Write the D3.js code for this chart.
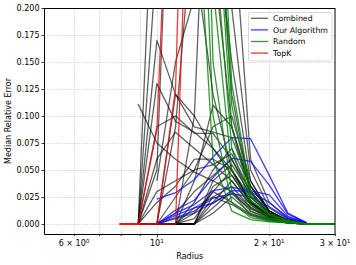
<!DOCTYPE html>
<html>
<head>
<meta charset="utf-8">
<script src="https://cdn.jsdelivr.net/npm/d3@7/dist/d3.min.js"></script>
<style>
  html, body { margin: 0; padding: 0; background: #fff; }
  svg { display: block; font-family: "DejaVu Sans", sans-serif; }
</style>
</head>
<body>
<svg id="chart" width="356" height="265"></svg>
<script>
// ---------------- data ----------------
const radii = [7.94, 8.91, 10, 11.22, 12.6, 14.14, 15.87, 17.82, 20, 22.45, 25.2, 28.28, 31.75];

const yTicks = [0, 0.025, 0.05, 0.075, 0.1, 0.125, 0.15, 0.175, 0.2];
const yTickLabels = ["0.000", "0.025", "0.050", "0.075", "0.100", "0.125", "0.150", "0.175", "0.200"];
const xMajorTicks = [10];
const xMinorTicks = [6, 7, 8, 9, 20, 30];
const xTickLabels = [
  { v: 6, base: "6 \u00d7 10", exp: "0" },
  { v: 10, base: "10", exp: "1" },
  { v: 20, base: "2 \u00d7 10", exp: "1" },
  { v: 30, base: "3 \u00d7 10", exp: "1" }
];

const legendLabels = ["Combined", "Our Algorithm", "Random", "TopK"];

// Combined (gray)
const combinedSeries = [
  [null, 0, 0.40, 0.70, 0.60, 0.35, 0.12, 0.03, 0.010, 0.003, 0],
  [null, 0, 0.05, 0.50, 0.80, 0.50, 0.20, 0.05, 0.015, 0.004, 0],
  [null, null, 0, 0.09, 0.30, 0.25, 0.09, 0.03, 0.010, 0.003, 0],
  [null, null, 0, 0, 0.10, 0.50, 0.30, 0.06, 0.020, 0.005, 0],
  [null, null, 0.04, 0.15, 0.21, 0.30, 0.15, 0.04, 0.012, 0.003, 0],
  [null, 0, 0.25, 0.35, 0.25, 0.12, 0.05, 0.02, 0.008, 0.002, 0],
  [null, 0.111, 0.075, 0.060, 0.048, 0.040, 0.030, 0.016, 0.006, 0.002, 0],
  [null, 0, 0.17, 0.12, 0.09, 0.085, 0.08, 0.035, 0.012, 0.003, 0],
  [null, 0, 0.13, 0.095, 0.085, 0.07, 0.05, 0.02, 0.008, 0.002, 0],
  [null, 0, 0.09, 0.10, 0.084, 0.084, 0.06, 0.025, 0.010, 0.003, 0],
  [null, null, 0, 0.12, 0.10, 0.07, 0.045, 0.02, 0.007, 0.002, 0],
  [null, 0, 0.06, 0.085, 0.07, 0.055, 0.04, 0.018, 0.006, 0.002, 0],
  [null, 0, 0, 0, 0.02, 0.05, 0.07, 0.035, 0.012, 0.003, 0],
  [null, 0, 0, 0.01, 0.03, 0.045, 0.06, 0.03, 0.010, 0.003, 0],
  [null, 0, 0, 0, 0, 0.04, 0.055, 0.028, 0.010, 0.002, 0],
  [null, 0, 0, 0, 0.01, 0.03, 0.05, 0.025, 0.009, 0.002, 0],
  [null, 0, 0, 0, 0, 0.035, 0.045, 0.02, 0.008, 0.002, 0],
  [null, 0, 0, 0, 0, 0.02, 0.04, 0.018, 0.007, 0.002, 0],
  [null, 0, 0, 0, 0.015, 0.025, 0.035, 0.015, 0.006, 0.002, 0],
  [null, 0, 0, 0, 0, 0.015, 0.03, 0.012, 0.005, 0.001, 0],
  [null, 0, 0, 0.005, 0.01, 0.02, 0.028, 0.014, 0.006, 0.001, 0],
  [null, 0, 0, 0, 0, 0.01, 0.025, 0.01, 0.004, 0.001, 0],
  [null, 0, 0, 0, 0.005, 0.03, 0.02, 0.009, 0.004, 0.001, 0],
  [null, 0, 0, 0, 0, 0.025, 0.018, 0.008, 0.003, 0.001, 0],
  [null, 0, 0.03, 0.04, 0.05, 0.055, 0.065, 0.03, 0.010, 0.003, 0],
  [null, 0, 0.02, 0.035, 0.06, 0.06, 0.05, 0.022, 0.008, 0.002, 0],
  [null, 0, 0, 0.025, 0.05, 0.09, 0.10, 0.04, 0.012, 0.003, 0],
  [null, 0, 0, 0, 0.04, 0.11, 0.09, 0.035, 0.012, 0.003, 0]
];

// Our Algorithm (blue)
const ourAlgorithmSeries = [
  [null, null, 0.023, 0.029, 0.041, 0.062, 0.080, 0.079, 0.045, 0.010, 0.001],
  [null, null, 0, 0.013, 0.022, 0.043, 0.061, 0.058, 0.036, 0.009, 0.001],
  [null, null, 0, 0.010, 0.018, 0.031, 0.034, 0.031, 0.027, 0.007, 0.001],
  [null, null, 0, 0.008, 0.015, 0.019, 0.031, 0.030, 0.020, 0.006, 0.001],
  [null, null, 0, 0.006, 0.012, 0.024, 0.028, 0.025, 0.016, 0.005, 0.001]
];

// Random (green)
const randomSeries = [
  [null, null, null, null, 0.35, 0.06, 0.012, 0.004, 0.002, 0.001, 0, 0, 0],
  [null, null, null, null, 0.50, 0.10, 0.020, 0.006, 0.003, 0.001, 0, 0, 0],
  [null, null, null, null, 0.70, 0.15, 0.030, 0.008, 0.004, 0.001, 0, 0, 0],
  [null, null, null, null, 0.90, 0.22, 0.050, 0.012, 0.005, 0.002, 0, 0, 0],
  [null, null, null, null, 0.90, 0.28, 0.070, 0.018, 0.006, 0.002, 0, 0, 0],
  [null, null, null, null, 0.90, 0.35, 0.090, 0.022, 0.008, 0.002, 0, 0, 0],
  [null, null, null, null, 0.90, 0.45, 0.130, 0.030, 0.010, 0.003, 0, 0, 0],
  [null, null, null, null, 0.90, 0.40, 0.110, 0.026, 0.009, 0.003, 0, 0, 0]
];

// TopK (red)
const topKSeries = [
  [0, 0, 0.087, 0.50],
  [0, 0, 0, 0.125, 0.72],
  [0, 0, 0, 0, 0.51]
];

// ---------------- chart ----------------
const svg = d3.select("#chart");
const L = 44.5, R = 335, T = 8, B = 234;

const x = d3.scaleLog().domain([5, 30]).range([L, R]);
const y = d3.scaleLinear().domain([-0.00926, 0.2]).range([B, T]);

svg.append("defs").append("clipPath").attr("id", "plotclip")
  .append("rect").attr("x", L).attr("y", T).attr("width", R - L).attr("height", B - T);

// grid
const grid = svg.append("g");
grid.selectAll("line.gy").data(yTicks).enter().append("line")
  .attr("x1", L).attr("x2", R)
  .attr("y1", d => Math.round(y(d)) + 0.5).attr("y2", d => Math.round(y(d)) + 0.5)
  .attr("stroke", "#cfcfcf").attr("stroke-width", 0.8).attr("stroke-dasharray", "1.6,1.2");
grid.selectAll("line.gx").data([6, 7, 8, 9, 10, 20]).enter().append("line")
  .attr("y1", T).attr("y2", B)
  .attr("x1", d => Math.round(x(d)) + 0.5).attr("x2", d => Math.round(x(d)) + 0.5)
  .attr("stroke", "#cfcfcf").attr("stroke-width", 0.8).attr("stroke-dasharray", "1.6,1.2");

// lines
const lineGen = d3.line()
  .defined(d => d.v !== null && d.v !== undefined)
  .x(d => x(d.r)).y(d => y(d.v));
const toPts = s => s.map((v, i) => ({ r: radii[i], v: v }));

const plot = svg.append("g").attr("clip-path", "url(#plotclip)");
function drawGroup(series, color, opacity) {
  plot.append("g").selectAll("path").data(series).enter().append("path")
    .attr("d", s => lineGen(toPts(s)))
    .attr("fill", "none").attr("stroke", color)
    .attr("stroke-opacity", opacity).attr("stroke-width", 1.3)
    .attr("stroke-linejoin", "round");
}
drawGroup(combinedSeries, "#000000", 0.62);
drawGroup(ourAlgorithmSeries, "#0000ff", 0.75);
drawGroup(randomSeries, "#008000", 0.8);
drawGroup(topKSeries, "#ff0000", 0.8);

// y axis
const yAxis = d3.axisLeft(y).tickValues(yTicks)
  .tickFormat((d, i) => yTickLabels[i]).tickSize(3).tickPadding(2);
const gy = svg.append("g").attr("transform", `translate(${L},0)`).call(yAxis);
gy.select(".domain").remove();
gy.selectAll("text").attr("font-size", 8).attr("fill", "#000")
  .attr("font-family", "DejaVu Sans, sans-serif");
gy.selectAll("line").attr("stroke", "#000").attr("stroke-width", 0.8);

// x axis ticks
const xAxisMajor = d3.axisBottom(x).tickValues(xMajorTicks).tickFormat("").tickSize(3.5);
const xAxisMinor = d3.axisBottom(x).tickValues(xMinorTicks).tickFormat("").tickSize(2);
const gxa = svg.append("g").attr("transform", `translate(0,${B})`).call(xAxisMajor);
const gxb = svg.append("g").attr("transform", `translate(0,${B})`).call(xAxisMinor);
[gxa, gxb].forEach(g => {
  g.select(".domain").remove();
  g.selectAll("line").attr("stroke", "#000").attr("stroke-width", 0.8);
});

// x tick labels with superscripts
const xl = svg.append("g");
xTickLabels.forEach(t => {
  const txt = xl.append("text")
    .attr("x", x(t.v)).attr("y", 246)
    .attr("text-anchor", "middle").attr("font-size", 8).attr("fill", "#000");
  txt.append("tspan").text(t.base);
  txt.append("tspan").attr("dy", -3.4).attr("font-size", 5.6).text(t.exp);
});

// spines
const sp = svg.append("g").attr("fill", "none");
sp.append("line").attr("x1", L).attr("x2", L).attr("y1", T).attr("y2", B + 0.5).attr("stroke", "#000").attr("stroke-width", 1);
sp.append("line").attr("x1", L).attr("x2", R).attr("y1", B + 0.5).attr("y2", B + 0.5).attr("stroke", "#000").attr("stroke-width", 1);
sp.append("line").attr("x1", L).attr("x2", R).attr("y1", T + 0.5).attr("y2", T + 0.5).attr("stroke", "#000").attr("stroke-width", 1);
sp.append("line").attr("x1", R).attr("x2", R).attr("y1", T).attr("y2", B + 0.5).attr("stroke", "#000").attr("stroke-width", 1);

// axis labels
svg.append("text").attr("x", (L + R) / 2).attr("y", 258.5)
  .attr("text-anchor", "middle").attr("font-size", 8).text("Radius");
svg.append("text")
  .attr("transform", `translate(10.5,${(T + B) / 2}) rotate(-90)`)
  .attr("text-anchor", "middle").attr("font-size", 8).text("Median Relative Error");

// legend
const legendColors = ["#000000", "#0000ff", "#008000", "#ff0000"];
const legendOpac = [0.62, 0.75, 0.8, 0.8];
const lg = svg.append("g");
lg.append("rect").attr("x", 248.5).attr("y", 12.5).attr("width", 83.5).attr("height", 48.5)
  .attr("rx", 2).attr("fill", "#fff").attr("fill-opacity", 0.8)
  .attr("stroke", "#d0d0d0").attr("stroke-width", 0.8);
legendLabels.forEach((lab, i) => {
  const yy = 18.3 + i * 11.6;
  lg.append("line").attr("x1", 251).attr("x2", 268).attr("y1", yy).attr("y2", yy)
    .attr("stroke", legendColors[i]).attr("stroke-opacity", legendOpac[i]).attr("stroke-width", 1.3);
  lg.append("text").attr("x", 273).attr("y", yy + 2.8).attr("font-size", 7.8).text(lab);
});
</script>
</body>
</html>
